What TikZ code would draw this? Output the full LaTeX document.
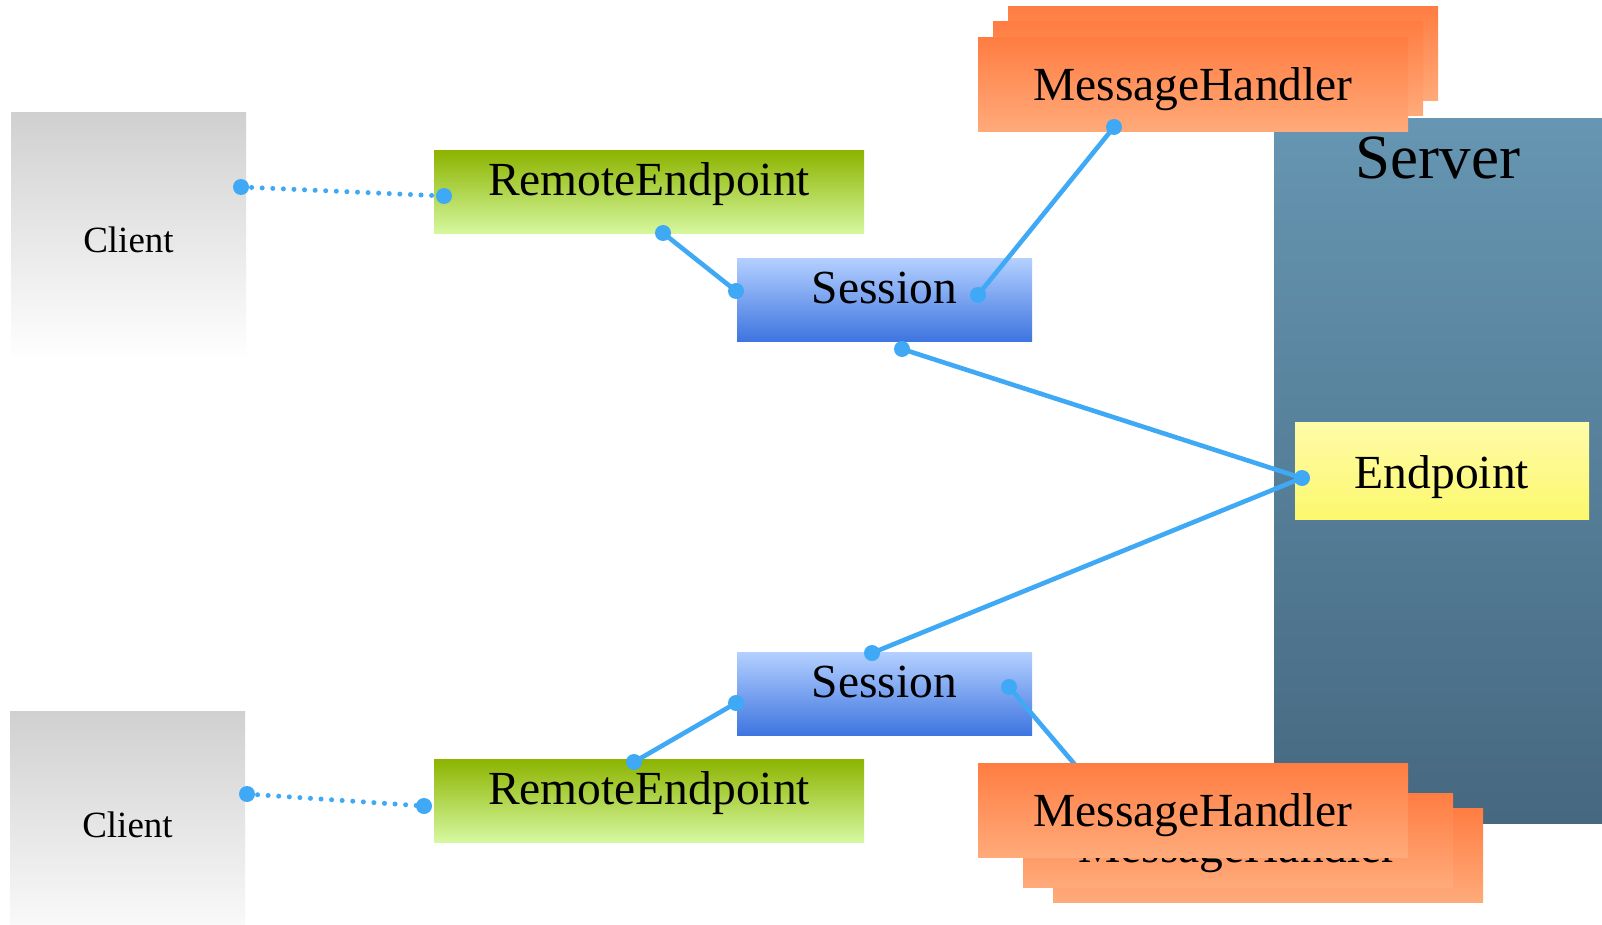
\documentclass[tikz,border=0pt]{standalone}
\usepackage{fontspec}
\setmainfont{Liberation Serif}
\definecolor{clTop}{RGB}{208,208,208}
\definecolor{mhTop}{RGB}{255,125,66}
\definecolor{mhBot}{RGB}{255,170,122}
\definecolor{reTop}{RGB}{140,180,0}
\definecolor{reBot}{RGB}{214,248,160}
\definecolor{sTop}{RGB}{180,208,255}
\definecolor{sBot}{RGB}{62,117,224}
\definecolor{svTop}{RGB}{102,150,178}
\definecolor{svBot}{RGB}{70,104,128}
\definecolor{epTop}{RGB}{255,251,168}
\definecolor{epBot}{RGB}{252,248,110}
\definecolor{conn}{RGB}{63,169,245}
\begin{document}
\begin{tikzpicture}[x=1pt,y=-1pt,
  box/.style={inner sep=0pt, outer sep=0pt, anchor=north west, draw=none},
  bigtext/.style={font=\fontsize{47.5}{57}\selectfont},
  clientbox/.style={box, top color=clTop, bottom color=white, minimum width=235pt,
     font=\fontsize{37}{44}\selectfont},
  rebox/.style={box, bigtext, top color=reTop, bottom color=reBot, minimum width=430pt,
     text height=45pt, text depth=38pt},
  sbox/.style={box, bigtext, top color=sTop, bottom color=sBot, minimum width=295pt,
     text height=45pt, text depth=38pt},
  mhbox/.style={box, bigtext, top color=mhTop, bottom color=mhBot, minimum width=430pt,
     text height=63pt, text depth=31pt},
  dot/.style={circle, fill=conn, draw=none, inner sep=0pt, minimum size=16pt},
  connline/.style={draw=conn, line width=4.6pt},
  dotline/.style={draw=conn, line width=5pt, line cap=round, dash pattern=on 0pt off 10.6pt}
]
\path[use as bounding box, clip] (0,0) rectangle (1602,925);
\fill[white] (0,0) rectangle (1602,925);

% clients
\node[clientbox, text height=139pt, text depth=108pt] (client1) at (11,113) {Client};
\node[clientbox, text height=126pt, text depth=121pt] (client2) at (10,711) {Client};

% server and endpoint
\node[box, top color=svTop, bottom color=svBot, minimum width=328pt,
  text height=60pt, text depth=644pt, font=\fontsize{63}{75}\selectfont] (server) at (1274,119) {Server};
\node[box, bigtext, top color=epTop, bottom color=epBot, minimum width=294pt,
  text height=66pt, text depth=31pt] (endpoint) at (1295,422) {Endpoint};

% remote endpoints and sessions
\node[rebox] (re1) at (434,151) {RemoteEndpoint};
\node[rebox] (re2) at (434,759) {RemoteEndpoint};
\node[sbox] (s1) at (737,258) {Session};
\node[sbox] (s2) at (737,652) {Session};

% top message handler stack
\node[mhbox] (mh1c) at (1008,7) {MessageHandler};
\node[mhbox] (mh1b) at (993,22) {MessageHandler};
\node[mhbox] (mh1a) at (978,38) {MessageHandler};

% connector dots
\node[dot] (c1d) at (241,187) {};
\node[dot] (re1l) at (444,196) {};
\node[dot] (re1b) at (663,233) {};
\node[dot] (s1l) at (736,291) {};
\node[dot] (s1r) at (978,295) {};
\node[dot] (mh1d) at (1114,127) {};
\node[dot] (s1b) at (902,349) {};
\node[dot] (epd) at (1302,478) {};
\node[dot] (s2t) at (872,653) {};
\node[dot] (s2l) at (736,703) {};
\node[dot] (re2t) at (634,762) {};
\node[dot] (c2d) at (247,794) {};
\node[dot] (re2l) at (424,806) {};
\node[dot] (s2r) at (1009,687) {};
\node[dot] (mh2d) at (1105,800) {};

% connectors
\draw[dotline] (c1d.center) -- (re1l.center);
\draw[dotline] (c2d.center) -- (re2l.center);
\draw[connline] (re1b.center) -- (s1l.center);
\draw[connline] (s1r.center) -- (mh1d.center);
\draw[connline] (s1b.center) -- (epd.center);
\draw[connline] (s2t.center) -- (epd.center);
\draw[connline] (re2t.center) -- (s2l.center);
\draw[connline] (s2r.center) -- (mh2d.center);

% bottom message handler stack
\node[mhbox] (mh2c) at (1053,808) {MessageHandler};
\node[mhbox, text height=69pt, text depth=25pt] (mh2b) at (1023,793) {MessageHandler};
\node[mhbox] (mh2a) at (978,763) {MessageHandler};
\end{tikzpicture}
\end{document}
